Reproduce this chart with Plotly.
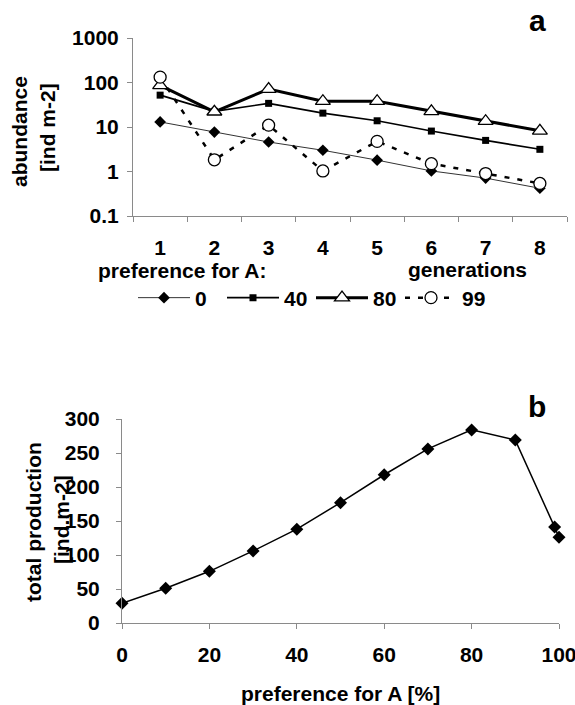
import plotly.graph_objects as go

# ---- data: panel a ----
generations = [1, 2, 3, 4, 5, 6, 7, 8]
gen_labels = ["1", "2", "3", "4", "5", "6", "7", "8"]
pref_0 = [13, 7.7, 4.6, 3.0, 1.8, 1.03, 0.71, 0.42]
pref_40 = [52, 22.5, 34, 20.5, 13.8, 8.1, 5.0, 3.15]
pref_80 = [86, 22, 71, 38, 38, 22.5, 13.5, 8.2]
pref_99 = [132, 1.83, 11, 1.03, 4.75, 1.5, 0.9, 0.54]
abund_ticks = [0.1, 1, 10, 100, 1000]
abund_labels = ["0.1", "1", "10", "100", "1000"]

# ---- data: panel b ----
preference = [0, 10, 20, 30, 40, 50, 60, 70, 80, 90, 99, 100]
production = [29, 51, 76, 106, 138, 177, 218, 256, 284, 269, 141, 126]
prod_ticks = [0, 50, 100, 150, 200, 250, 300]
pref_ticks = [0, 20, 40, 60, 80, 100]

W, H = 575, 705
def px(x):
    return x / W
def py(y):
    return 1 - y / H

FONT = "Liberation Sans, Arial, sans-serif"
FS = 21
AX = "#8a8a8a"

fig = go.Figure()

fig.add_trace(go.Scatter(x=generations, y=pref_0, name="0", mode="lines+markers",
                         line=dict(color="#333333", width=1),
                         marker=dict(symbol="diamond", size=9, color="black"),
                         cliponaxis=False, xaxis="x", yaxis="y"))
fig.add_trace(go.Scatter(x=generations, y=pref_40, name="40", mode="lines+markers",
                         line=dict(color="black", width=1.6),
                         marker=dict(symbol="square", size=7, color="black"),
                         cliponaxis=False, xaxis="x", yaxis="y"))
fig.add_trace(go.Scatter(x=generations, y=pref_80, name="80", mode="lines+markers",
                         line=dict(color="black", width=3),
                         marker=dict(symbol="triangle-up", size=13, color="white",
                                     line=dict(color="black", width=1.3)),
                         cliponaxis=False, xaxis="x", yaxis="y"))
fig.add_trace(go.Scatter(x=generations, y=pref_99, name="99", mode="lines+markers",
                         line=dict(color="black", width=2.5, dash="5px,8px"),
                         marker=dict(symbol="circle", size=12, color="white",
                                     line=dict(color="black", width=1.3)),
                         cliponaxis=False, xaxis="x", yaxis="y"))
fig.add_trace(go.Scatter(x=preference, y=production, name="production", mode="lines+markers",
                         line=dict(color="black", width=1.5),
                         marker=dict(symbol="diamond", size=10, color="black"),
                         cliponaxis=False, showlegend=False, xaxis="x2", yaxis="y2"))

tf = dict(family=FONT, size=FS, color="black", weight="bold")
axis_common = dict(showline=True, linecolor=AX, linewidth=1, showgrid=False,
                   zeroline=False, tickwidth=1, tickfont=tf, ticklabeloverflow="allow",
                   automargin=False)

fig.update_layout(
    width=W, height=H,
    margin=dict(l=0, r=0, t=0, b=0, pad=0, autoexpand=False),
    paper_bgcolor="white", plot_bgcolor="white",
    font=dict(family=FONT, size=FS, color="black", weight="bold"),
    xaxis=dict(domain=[px(133), px(567)], range=[0.5, 8.5], anchor="y",
               tickmode="array", tickvals=generations, ticktext=gen_labels,
               ticks="outside", ticklen=5, tickcolor="rgba(0,0,0,0)", ticklabelstandoff=8,
               minor=dict(tickmode="array", tickvals=[g - 0.5 for g in generations] + [8.5],
                          ticks="outside", ticklen=5, tickcolor=AX, showgrid=False),
               **axis_common),
    yaxis=dict(domain=[py(216), py(38)], type="log", range=[-1, 3], anchor="x",
               tickmode="array", tickvals=abund_ticks, ticktext=abund_labels,
               ticks="outside", ticklen=5, tickcolor=AX, ticklabelstandoff=4,
               **axis_common),
    xaxis2=dict(domain=[px(122), px(559)], range=[0, 100], anchor="y2",
                tickmode="array", tickvals=pref_ticks,
                ticks="outside", ticklen=5, tickcolor=AX, ticklabelstandoff=8,
                **axis_common),
    yaxis2=dict(domain=[py(623), py(419)], range=[0, 300], anchor="x2",
                tickmode="array", tickvals=prod_ticks,
                ticks="outside", ticklen=5, tickcolor=AX, ticklabelstandoff=12,
                **axis_common),
    showlegend=True,
    legend=dict(orientation="h", x=px(133), y=py(298), xanchor="left", yanchor="middle",
                itemwidth=52, entrywidth=22, entrywidthmode="pixels", font=tf,
                bgcolor="rgba(0,0,0,0)", traceorder="normal", tracegroupgap=0,
                itemclick=False, itemdoubleclick=False),
)

def ann(text, x, y, size=FS, angle=0, xanchor="center"):
    fig.add_annotation(text=text, x=px(x), y=py(y), xref="paper", yref="paper",
                       showarrow=False, textangle=angle, xanchor=xanchor, yanchor="middle",
                       font=dict(family=FONT, size=size, color="black", weight="bold"))

ann("a", 537, 20, size=30)
ann("b", 537, 406, size=30)
ann("abundance", 19, 132, angle=-90)
ann("[ind m-2]", 47, 128, angle=-90)
ann("total production", 33, 522, angle=-90)
ann("[ind.m-2]", 61, 520, angle=-90)
ann("preference for A:", 96, 270, xanchor="left")
ann("generations", 467, 269)
ann("preference for A [%]", 340, 693)

fig.write_html("out.html",
               post_script="document.documentElement.style.overflow='hidden';"
                           "document.body.style.overflow='hidden';")
